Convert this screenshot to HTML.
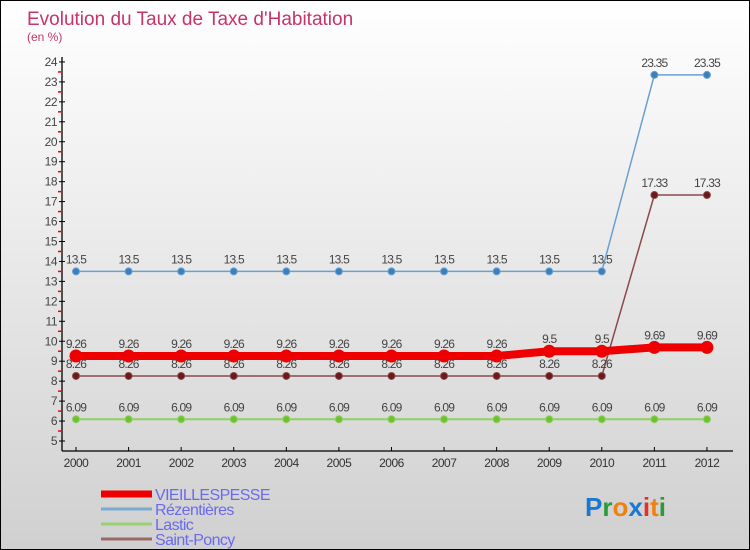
<!DOCTYPE html>
<html><head><meta charset="utf-8"><style>
body{margin:0}
#c{width:748px;height:548px;border:1px solid #000;background:linear-gradient(#fff,#d0d0d0);position:relative;font-family:"Liberation Sans",sans-serif;overflow:hidden}
</style></head><body>
<div id="c">
<svg width="748" height="548" id="s">
<text x="26" y="24" font-size="19" fill="#c8336a">Evolution du Taux de Taxe d'Habitation</text>
<text x="26" y="40" font-size="12" fill="#c8336a">(en %)</text>
<g id="g"></g>
<text x="584" y="515" font-size="26" font-weight="bold"><tspan fill="#1a78d0">P</tspan><tspan fill="#2a9a3a">r</tspan><tspan fill="#f08010">o</tspan><tspan fill="#1a78d0">x</tspan><tspan fill="#e83020">i</tspan><tspan fill="#f08010">t</tspan><tspan fill="#2a9a3a">i</tspan></text>
</svg></div>
<script>
const years=[2000,2001,2002,2003,2004,2005,2006,2007,2008,2009,2010,2011,2012];
const vieil=[9.26,9.26,9.26,9.26,9.26,9.26,9.26,9.26,9.26,9.5,9.5,9.69,9.69];
const rez=[13.5,13.5,13.5,13.5,13.5,13.5,13.5,13.5,13.5,13.5,13.5,23.35,23.35];
const lastic=[6.09,6.09,6.09,6.09,6.09,6.09,6.09,6.09,6.09,6.09,6.09,6.09,6.09];
const stp=[8.26,8.26,8.26,8.26,8.26,8.26,8.26,8.26,8.26,8.26,8.26,17.33,17.33];
const yTicks=[5,6,7,8,9,10,11,12,13,14,15,16,17,18,19,20,21,22,23,24];
const names=["VIEILLESPESSE","Rézentières","Lastic","Saint-Poncy"];
const g=document.getElementById('g');const NS='http://www.w3.org/2000/svg';
const X=i=>75+i*52.58, Y=v=>440-(v-5)*19.95;
function mk(t,a,p){const e=document.createElementNS(NS,t);for(const k in a)e.setAttribute(k,a[k]);(p||g).appendChild(e);return e;}
let e=mk('line',{x1:61,y1:56,x2:61,y2:450,stroke:'#000','stroke-width':1.3});


e=mk('line',{x1:61,y1:450,x2:732,y2:450,stroke:'#000','stroke-width':1.3});


yTicks.forEach(v=>{mk('line',{x1:58,y1:Y(v),x2:64,y2:Y(v),stroke:'#000'});
 if(v<24)mk('line',{x1:57,y1:Y(v+0.5),x2:60,y2:Y(v+0.5),stroke:'#e00','stroke-width':1.5});
 const t=mk('text',{x:56,y:Y(v)+4,'font-size':12,fill:'#444','text-anchor':'end','letter-spacing':'-0.5'});t.textContent=v;
 
 });
years.forEach((y,i)=>{mk('line',{x1:X(i),y1:446,x2:X(i),y2:450,stroke:'#000'});
 const t=mk('text',{x:X(i),y:466,'font-size':12,fill:'#333','text-anchor':'middle','letter-spacing':'-0.5'});t.textContent=y;
 
 });
function series(d,col,dot,w,r,name){
 const pl=mk('polyline',{points:d.map((v,i)=>X(i)+','+Y(v)).join(' '),fill:'none',stroke:col,'stroke-width':w});
 
 
 d.forEach((v,i)=>{const c=mk('circle',{cx:X(i),cy:Y(v),r:r,fill:dot,stroke:col,'stroke-width':1});
  
  
  const t=mk('text',{x:X(i),y:Y(v)-8,'font-size':12,fill:'#444','text-anchor':'middle','letter-spacing':'-0.8'});t.textContent=v;
  
  });
}
series(lastic,'#8fd060','#70c030',2,3.5,'lastic');
series(stp,'#8a4a4a','#6a1a1a',1.5,3.5,'saint-poncy');
series(rez,'#6aa0d0','#3a80c0',1.5,3.5,'rezentieres');
series(vieil,'#ee0000','#ee0000',8,6,'vieillespesse');
const cols=['#ee0000','#7aaad0','#9ad070','#9a6a6a'],ws=[7,3,3,3];
names.forEach((n,i)=>{const y=493+i*15;
 const l=mk('line',{x1:100,y1:y,x2:151,y2:y,stroke:cols[i],'stroke-width':ws[i]});
 
 
 const t=mk('text',{x:154,y:y+6,'font-size':16,fill:'#6a6af0','letter-spacing':'-0.6'});t.textContent=n;
 
 });
</script>
</body></html>
